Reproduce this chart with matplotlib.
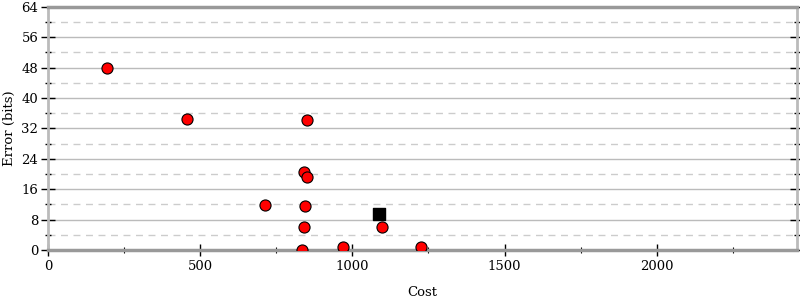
import matplotlib
matplotlib.use("Agg")
import matplotlib.pyplot as plt
from matplotlib.ticker import MultipleLocator

cost = [194, 456, 850, 840, 850, 712, 844, 840, 1097, 834, 969, 1225]
error = [48.0, 34.5, 34.2, 20.5, 19.2, 11.8, 11.6, 5.9, 6.1, 0.1, 0.7, 0.8]
init_cost = [1087]
init_error = [9.5]

xticks = [0, 500, 1000, 1500, 2000]
yticks = [0, 8, 16, 24, 32, 40, 48, 56, 64]

plt.rcParams['font.family'] = ['DejaVu Serif']
fig = plt.figure(figsize=(8, 3), dpi=100)
ax = fig.add_axes([0.06, 0.167, 0.936, 0.81])

ax.set_xlim(0, 2460)
ax.set_ylim(0, 64)
ax.set_xticks(xticks)
ax.set_yticks(yticks)
ax.xaxis.set_minor_locator(MultipleLocator(250))
ax.yaxis.set_minor_locator(MultipleLocator(4))

for y in yticks[1:]:
    ax.axhline(y, color='#bbbbbb', lw=1, zorder=0)
for y in range(4, 64, 8):
    ax.axhline(y, color='#cccccc', lw=1, ls=(0, (5, 4)), zorder=0)

ax.scatter(cost, error, s=64, color='red', edgecolor='black', linewidth=0.8, zorder=3)
ax.scatter(init_cost, init_error, s=78, marker='s', color='black', zorder=3)

for side in ['left', 'right']:
    ax.spines[side].set_color('#bbbbbb')
    ax.spines[side].set_linewidth(2)
for side in ['top', 'bottom']:
    ax.spines[side].set_color('#999999')
    ax.spines[side].set_linewidth(2.5)

ax.tick_params(axis='y', which='both', left=True, right=True, direction='inout', color='black', width=1)
ax.tick_params(axis='y', which='major', length=10, labelsize=9.5, pad=2)
ax.tick_params(axis='y', which='minor', length=5)
ax.tick_params(axis='x', which='major', direction='inout', length=8, width=1, color='black', labelsize=9.5)
ax.tick_params(axis='x', which='minor', direction='inout', length=5, width=0.8, color='black')

ax.set_xlabel('Cost', fontsize=9.5, labelpad=9)
ax.set_ylabel('Error (bits)', fontsize=9.5, labelpad=4)

fig.savefig('out.png', dpi=100)
